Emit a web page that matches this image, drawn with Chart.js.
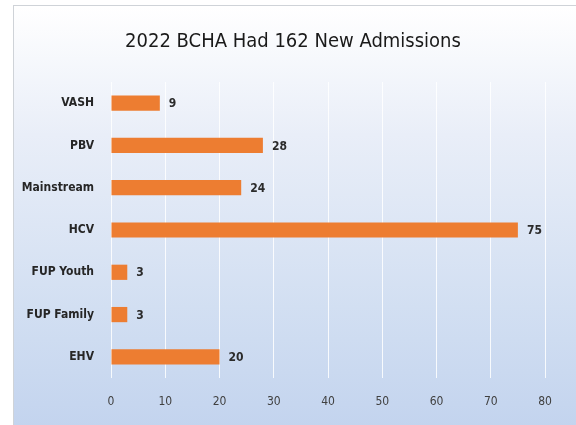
<!DOCTYPE html>
<html><head><meta charset="utf-8">
<script src="https://cdn.jsdelivr.net/npm/chart.js@4"></script>
<style>
html,body{margin:0;padding:0;background:#fff;overflow:hidden;width:576px;height:425px;}
#frame{position:absolute;left:13px;top:5px;width:570px;height:430px;border:1px solid #cfd3d8;
background:linear-gradient(to bottom,#ffffff 0%,#e9eef8 30%,#d2dff2 70%,#c2d3ee 100%);}
#wrap{position:absolute;left:0;top:0;width:558px;height:419px;}
</style></head><body>
<div id="frame"><div id="wrap"><canvas id="c"></canvas></div></div>
<script>
const categories = ["VASH","PBV","Mainstream","HCV","FUP Youth","FUP Family","EHV"];
const admissions = [9,28,24,75,3,3,20];
const xTicks = [0,10,20,30,40,50,60,70,80];
const titleText = "2022 BCHA Had 162 New Admissions";

const FONT = "'DejaVu Sans Condensed','Open Sans',sans-serif";

const valueLabels = {
  id:'valueLabels',
  afterDatasetsDraw(chart){
    const ctx = chart.ctx;
    const meta = chart.getDatasetMeta(0);
    ctx.save();
    ctx.font = "bold 12px " + FONT;
    ctx.fillStyle = "#2b2b2b";
    ctx.textAlign = "left";
    ctx.textBaseline = "middle";
    meta.data.forEach((bar,i)=>{
      ctx.fillText(String(chart.data.datasets[0].data[i]), bar.x + 9, bar.y + 1);
    });
    ctx.restore();
  }
};

new Chart(document.getElementById('c'),{
  type:'bar',
  data:{labels:categories,datasets:[{data:admissions,backgroundColor:'#ED7D31',borderWidth:0,
    barPercentage:0.72,categoryPercentage:0.5}]},
  options:{
    indexAxis:'y',responsive:true,maintainAspectRatio:false,animation:false,
    layout:{padding:0},
    plugins:{
      legend:{display:false},tooltip:{enabled:false},
      title:{display:true,text:titleText,color:'#1a1a1a',
        font:{family:FONT,size:20,weight:'normal'},padding:{top:24,bottom:28}}
    },
    scales:{
      x:{min:0,max:80,
        afterBuildTicks(s){s.ticks = xTicks.map(v=>({value:v}));},
        afterFit(s){s.height=47;},
        grid:{color:'rgba(255,255,255,0.85)',lineWidth:1,drawTicks:false},
        border:{display:false},
        ticks:{color:'#404040',font:{family:FONT,size:12},padding:17}
      },
      y:{
        afterFit(s){s.width=97;},
        grid:{display:false,drawTicks:false},
        border:{display:false},
        ticks:{color:'#262626',font:{family:FONT,size:12,weight:'bold'},padding:17}
      },
      yRight:{
        type:'category',axis:'y',position:'right',
        afterFit(s){s.width=27;},
        grid:{display:false,drawTicks:false},
        border:{display:false},
        ticks:{display:false}
      }
    }
  },
  plugins:[valueLabels]
});
</script>
</body></html>
